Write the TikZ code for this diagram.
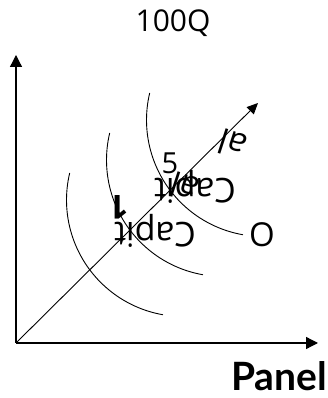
\documentclass[tikz,border=0pt]{standalone}
\usepackage{fontspec}
\setmainfont{Open Sans}
\newfontfamily\panelfont{Lato}
\usetikzlibrary{arrows.meta}

\begin{document}
\begin{tikzpicture}[x=1pt, y=1pt,
    axisline/.style={line width=1.3pt, -{Triangle[length=12pt, width=12pt]}},
    rayline/.style={line width=0.9pt, -{Triangle[length=11pt, width=10pt]}},
    curveline/.style={line width=0.9pt},
    lbl/.style={inner sep=0pt, font=\fontsize{34}{38}\selectfont},
    smalllbl/.style={inner sep=0pt, font=\fontsize{29}{33}\selectfont}]
      \useasboundingbox (0,0) rectangle (328,398);
      % Axes
      \coordinate (orig) at (16,55);
      \coordinate (ytip) at (16,343);
      \coordinate (xtip) at (318,55);
      \coordinate (raytip) at (258,295);
      \draw[axisline] (orig) -- (ytip);
      \draw[axisline] (orig) -- (xtip);
      \draw[rayline] (orig) -- (raytip);
      % Curves
      \foreach \s in {0,40,80} {
        \draw[curveline] (183+\s,198+\s) ++(166.6:116.5) arc[start angle=166.6, end angle=260.1, radius=116.5];
      }
      % Labels
      \node[inner sep=0pt, anchor=base, font=\fontsize{30}{34}\selectfont] (title) at (173,366) {100Q};
      \node[inner sep=0pt, anchor=base, font=\panelfont\bfseries\fontsize{39}{43}\selectfont] (panel) at (279,8) {Panel};
      \node[inner sep=0pt, font=\fontsize{33}{37}\selectfont] (olbl) at (262,163) {O};
      \node[smalllbl] (five) at (170,235) {5};
      \node[lbl, rotate=180] (caplow) at (155,167) {Capit};
      \node[lbl, rotate=180] (caphigh) at (195,211) {Capit};
      \node[lbl, rotate=162] (alhigh) at (184,211) {al};
      \node[lbl, rotate=162] (altip) at (232,254) {al};
      \node[inner sep=0pt, rotate=180, font=\bfseries\fontsize{33}{37}\selectfont] (one) at (119,191) {1};
    \end{tikzpicture}
\end{document}
